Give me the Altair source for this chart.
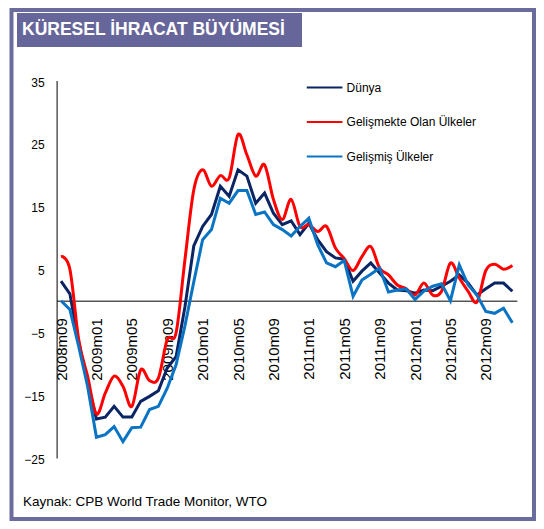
import json
import altair as alt
import pandas as pd

# ---- data ----
series_names = ["Dünya", "Gelişmekte Olan Ülkeler", "Gelişmiş Ülkeler"]
series_colors = ["#0b2463", "#ff0000", "#0a74c4"]

dunya = [3.1, 1.1, -6.7, -12.8, -18.8, -18.5, -16.8, -18.5, -18.5, -16.0,
         -15.2, -14.3, -10.7, -8.9, -1.0, 8.7, 11.8, 13.7, 18.2, 16.6,
         20.8, 19.8, 15.5, 17.1, 13.9, 12.1, 12.7, 10.5, 12.3, 9.7,
         7.8, 6.8, 6.6, 3.1, 4.7, 6.0, 4.4, 2.8, 1.7, 1.6,
         1.2, 1.7, 1.6, 2.3, 3.1, 4.1, 2.8, 0.9, 1.9, 2.8,
         2.8, 1.5]
gelismekte = [7.0, 5.0, -6.2, -12.0, -18.0, -14.7, -12.0, -13.6, -16.8, -11.0,
              -12.7, -12.3, -6.2, -5.1, 6.5, 17.6, 20.8, 18.2, 19.9, 19.5,
              26.4, 23.2, 19.8, 21.6, 16.1, 12.9, 16.1, 11.8, 12.1, 11.0,
              11.8, 8.4, 6.7, 4.8, 7.0, 8.6, 5.2, 4.1, 2.5, 1.9,
              0.9, 2.8, 0.9, 1.5, 6.0, 3.6, 1.5, -0.2, 4.8, 5.8,
              5.0, 5.6]
gelismis = [0.0, -1.4, -7.3, -13.6, -21.7, -21.3, -20.0, -22.4, -20.2, -20.1,
            -17.3, -16.8, -13.9, -10.2, -4.0, 3.0, 9.7, 11.3, 16.3, 15.5,
            17.5, 17.5, 13.7, 14.1, 12.1, 11.3, 10.3, 11.8, 13.1, 8.9,
            6.0, 5.4, 6.4, 0.7, 3.3, 4.2, 5.2, 1.4, 1.7, 1.9,
            0.2, 1.5, 2.3, 2.7, 0.0, 5.7, 2.5, 0.9, -1.7, -2.0,
            -1.2, -3.5]

tick_labels = ["2008m09", "2009m01", "2009m05", "2009m09", "2010m01",
               "2010m05", "2010m09", "2011m01", "2011m05", "2011m09",
               "2012m01", "2012m05", "2012m09"]
y_ticks = [-25, -15, -5, 5, 15, 25, 35]

title_text = "KÜRESEL İHRACAT BÜYÜMESİ"
source_text = "Kaynak: CPB World Trade Monitor, WTO"

# months 2008m09 .. 2012m12
months = []
y, m = 2008, 9
for _ in range(len(dunya)):
    months.append(f"{y}m{m:02d}")
    m += 1
    if m > 12:
        m = 1
        y += 1

rows = []
for name, vals in zip(series_names, [dunya, gelismekte, gelismis]):
    for i, v in enumerate(vals):
        rows.append({"idx": i, "month": months[i], "value": v, "series": name})
df = pd.DataFrame(rows)

FONT = "Liberation Sans"
W, H = 460.2, 377.5

label_expr = f"{json.dumps(tick_labels)}[round(datum.value / 4)]"

x_enc = alt.X(
    "idx:Q",
    scale=alt.Scale(domain=[-0.5, len(dunya) - 0.5], nice=False, zero=False),
    axis=alt.Axis(
        values=list(range(0, 4 * len(tick_labels), 4)),
        labelExpr=label_expr,
        labelAngle=270,
        labelFontSize=15,
        labelFont=FONT,
        labelColor="#000000",
        labelPadding=17,
        labelFlush=False,
        labelOverlap=False,
        labelBound=False,
        ticks=False,
        tickSize=0,
        grid=False,
        domain=True,
        domainColor="#555555",
        domainWidth=1.5,
        offset=-157.3,
        title=None,
    ),
)
y_enc = alt.Y(
    "value:Q",
    scale=alt.Scale(domain=[-25, 35], nice=False, zero=False),
    axis=alt.Axis(
        values=y_ticks,
        labelFontSize=12,
        labelFont=FONT,
        labelColor="#000000",
        labelPadding=12.5,
        labelOffset=1.5,
        ticks=False,
        tickSize=0,
        grid=False,
        domainColor="#000000",
        domainWidth=1,
        title=None,
    ),
)
legend = alt.Legend(
    orient="none",
    legendX=249,
    legendY=-12,
    title=None,
    symbolType="stroke",
    symbolSize=1270,
    symbolStrokeWidth=2,
    labelFontSize=12,
    labelFont=FONT,
    labelColor="#000000",
    labelOffset=3,
    rowPadding=9.5,
    padding=0,
    direction="vertical",
)
color_enc = alt.Color(
    "series:N",
    scale=alt.Scale(domain=series_names, range=series_colors),
    sort=series_names,
    legend=legend,
)

base = alt.Chart(df)


def series_layer(name, interp):
    return base.transform_filter(alt.datum.series == name).mark_line(
        strokeWidth=3, interpolate=interp
    ).encode(x=x_enc, y=y_enc, color=color_enc, detail="series:N")


dummy = pd.DataFrame({"a": [0]})

border = alt.Chart(dummy).mark_rect(
    filled=False, stroke="#6b6b9d", strokeWidth=4
).encode(
    x=alt.value(-45.1), x2=alt.value(477.4),
    y=alt.value(-70.5), y2=alt.value(438.5),
)
title_box = alt.Chart(dummy).mark_rect(color="#66669a").encode(
    x=alt.value(-39.6), x2=alt.value(245.4),
    y=alt.value(-67.5), y2=alt.value(-33.5),
)
title = alt.Chart(dummy).mark_text(
    text=title_text, font=FONT, fontSize=17.5, fontWeight="bold",
    color="#ffffff", align="left", baseline="middle",
).encode(x=alt.value(-34.6), y=alt.value(-50.3))
source = alt.Chart(dummy).mark_text(
    text=source_text, font=FONT, fontSize=13.5,
    color="#000000", align="left", baseline="middle",
).encode(x=alt.value(-33.6), y=alt.value(421))

chart = alt.layer(
    border,
    title_box,
    title,
    source,
    series_layer(series_names[0], "linear"),
    series_layer(series_names[1], "cardinal"),
    series_layer(series_names[2], "linear"),
).properties(
    width=W,
    height=H,
    padding={"left": 48.6, "top": 72.5, "right": 19.2, "bottom": 63},
    autosize=alt.AutoSizeParams(type="none"),
    background="#ffffff",
).configure_view(stroke=None)

chart.save("out.html", embed_options={"renderer": "svg", "actions": False})
